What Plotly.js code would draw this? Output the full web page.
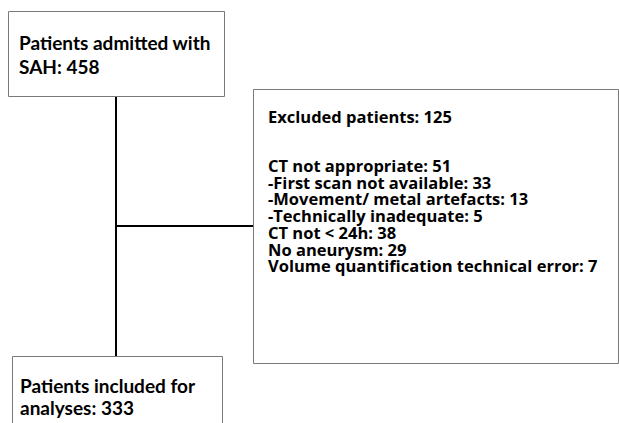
<!DOCTYPE html>
<html><head><meta charset="utf-8">
<script src="https://cdn.plot.ly/plotly-3.0.1.min.js"></script>
<style>html,body{margin:0;padding:0;background:#fff}#c{width:619px;height:423px}</style>
</head><body><div id="c"></div>
<script>
// Data
const admittedLabel = "Patients admitted with";
const admittedTitle2 = "SAH";
const admittedCount = 458;
const excludedTitle = "Excluded patients";
const excludedCount = 125;
const excludedLabels = ["CT not appropriate", "-First scan not available", "-Movement/ metal artefacts", "-Technically inadequate", "CT not < 24h", "No aneurysm", "Volume quantification technical error"];
const excludedCounts = [51, 33, 13, 5, 38, 29, 7];
const includedLabel = "Patients included for";
const includedTitle2 = "analyses";
const includedCount = 333;

const FONT_BIG = "Lato, sans-serif";
const FONT_SMALL = "'Open Sans', sans-serif";
const boxLine = {color: "#7a7a7a", width: 1};
const conn = {color: "#000", width: 2};

const shapes = [
  {type: "rect", x0: 8.5, x1: 224.5, y0: 11.5, y1: 96.5, line: boxLine, fillcolor: "#fff"},
  {type: "rect", x0: 253.5, x1: 618.5, y0: 89.5, y1: 363.5, line: boxLine, fillcolor: "#fff"},
  {type: "rect", x0: 12.5, x1: 222.5, y0: 356.5, y1: 440, line: boxLine, fillcolor: "#fff"},
  {type: "line", x0: 116, x1: 116, y0: 97, y1: 356, line: conn},
  {type: "line", x0: 116, x1: 253, y0: 226, y1: 226, line: conn}
];

const ann = [];
function add(text, x, y, size, fam) {
  ann.push({text: text, x: x, y: y, xref: "x", yref: "y", xanchor: "left", yanchor: "middle",
    showarrow: false, borderpad: 0, font: {family: fam, size: size, color: "#000", weight: "bold"}});
}
add(admittedLabel, 18, 42, 19, FONT_BIG);
add(admittedTitle2 + ": " + admittedCount, 18, 66, 19, FONT_BIG);
add(excludedTitle + ": " + excludedCount, 267, 116, 16.5, FONT_SMALL);
excludedLabels.forEach((l, i) => add(l + ": " + excludedCounts[i], 267, 165.5 + i * 16.7, 16.5, FONT_SMALL));
add(includedLabel, 19, 385, 19, FONT_BIG);
add(includedTitle2 + ": " + includedCount, 19, 407, 19, FONT_BIG);

Plotly.newPlot("c", [], {
  width: 619, height: 423,
  margin: {l: 0, r: 0, t: 0, b: 0},
  paper_bgcolor: "#fff", plot_bgcolor: "#fff",
  xaxis: {range: [0, 619], visible: false, fixedrange: true},
  yaxis: {range: [423, 0], visible: false, fixedrange: true},
  shapes: shapes, annotations: ann, showlegend: false
}, {staticPlot: true});
</script></body></html>
